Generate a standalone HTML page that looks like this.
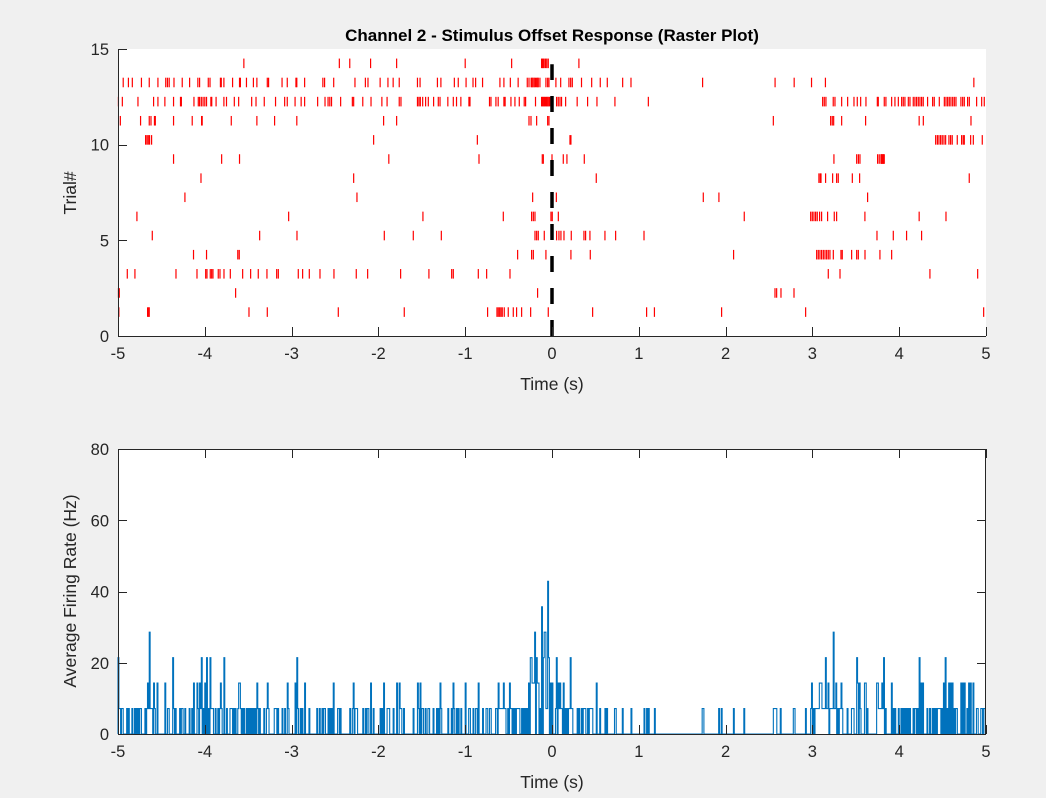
<!DOCTYPE html>
<html><head><meta charset="utf-8"><style>
html,body{margin:0;padding:0;background:#f0f0f0;}
svg{display:block;font-family:"Liberation Sans",Arial,sans-serif;}
</style></head><body>
<svg id="fig" width="1046" height="798">
<rect x="0" y="0" width="1046" height="798" fill="#f0f0f0"/>
<g id="topAxes"></g>
<g id="botAxes"></g>
</svg>
<script>
// Raster spike times (s) per trial
const trial1 = [-4.99,-4.659,-4.647,-4.64,-3.491,-3.28,-2.462,-1.702,-0.742,-0.634,-0.619,-0.603,-0.588,-0.573,-0.55,-0.504,-0.446,-0.408,-0.35,-0.246,-0.043,0.468,1.09,1.18,1.954,2.922,4.973];
const trial2 = [-4.997,-4.985,-3.645,-0.166,2.569,2.588,2.638,2.788];
const trial3 = [-4.893,-4.805,-4.332,-4.09,-3.99,-3.975,-3.937,-3.921,-3.906,-3.845,-3.825,-3.779,-3.706,-3.564,-3.472,-3.384,-3.284,-3.172,-3.153,-2.923,-2.873,-2.796,-2.673,-2.512,-2.255,-2.124,-1.744,-1.418,-1.156,-1.137,-0.849,-0.753,-0.484,3.183,3.318,4.354,4.904];
const trial4 = [-4.13,-3.98,-3.62,-3.603,-0.396,-0.235,-0.215,-0.07,0.218,0.441,2.092,3.049,3.068,3.087,3.106,3.126,3.145,3.164,3.183,3.202,3.241,3.329,3.344,3.452,3.51,3.529,3.606,3.778,3.913];
const trial5 = [-4.605,-3.368,-2.938,-1.932,-1.598,-1.275,-0.196,-0.177,-0.158,-0.089,0.053,0.08,0.103,0.138,0.222,0.368,0.387,0.437,0.61,0.733,1.06,3.744,3.932,4.085,4.258];
const trial6 = [-4.782,-3.034,-1.487,-0.561,-0.235,-0.215,-0.196,-0.012,0.003,0.073,2.215,2.98,2.999,3.018,3.037,3.056,3.083,3.106,3.175,3.252,3.279,3.605,4.23,4.539];
const trial7 = [-4.229,-2.247,-0.223,0.05,1.743,1.923,3.636];
const trial8 = [-4.044,-2.285,0.51,3.075,3.091,3.099,3.152,3.233,3.279,3.298,3.46,3.544,4.807];
const trial9 = [-4.36,-3.806,-3.6,-1.88,-0.841,-0.112,-0.1,0.0,0.13,0.172,0.372,3.248,3.51,3.53,3.548,3.751,3.77,3.79,3.795,3.8,3.809,3.815,3.82,3.828];
const trial10 = [-4.682,-4.666,-4.651,-4.636,-4.613,-2.055,-0.86,0.207,0.218,4.42,4.44,4.458,4.477,4.496,4.516,4.535,4.573,4.592,4.611,4.669,4.719,4.738,4.75,4.823,4.854,4.957];
const trial11 = [-4.973,-4.74,-4.64,-4.62,-4.58,-4.57,-4.36,-4.145,-4.037,-4.03,-3.695,-3.4,-3.196,-2.94,-1.94,-1.79,-0.265,-0.242,-0.177,-0.05,-0.035,2.55,3.21,3.229,3.245,3.337,3.613,4.23,4.278,4.827];
const trial12 = [-4.997,-4.95,-4.77,-4.59,-4.54,-4.46,-4.36,-4.28,-4.27,-4.125,-4.075,-4.06,-4.04,-4.02,-4.0,-3.98,-3.93,-3.92,-3.87,-3.78,-3.75,-3.66,-3.61,-3.46,-3.41,-3.315,-3.185,-3.08,-3.05,-2.96,-2.89,-2.85,-2.7,-2.615,-2.58,-2.56,-2.54,-2.435,-2.3,-2.285,-2.18,-2.085,-1.96,-1.9,-1.76,-1.74,
 -1.55,-1.533,-1.517,-1.49,-1.456,-1.425,-1.364,-1.31,-1.29,-1.2,-1.137,-1.1,-1.05,-0.957,-0.945,-0.72,-0.703,-0.646,-0.62,-0.554,-0.54,-0.473,-0.427,-0.377,-0.32,-0.304,-0.19,-0.12,-0.11,-0.1,-0.09,-0.081,-0.07,-0.062,-0.05,-0.043,-0.03,-0.015,0.053,0.072,0.092,0.11,0.157,0.29,0.41,0.518,0.725,1.11,
 3.118,3.137,3.156,3.24,3.26,3.337,3.406,3.479,3.517,3.556,3.617,3.748,3.759,3.828,3.847,3.913,3.951,3.99,4.028,4.047,4.066,4.105,4.124,4.162,4.181,4.2,4.22,4.239,4.258,4.277,4.327,4.385,4.404,4.462,4.52,4.539,4.558,4.577,4.596,4.616,4.635,4.654,4.711,4.731,4.75,4.788,4.808,4.892,4.95,4.98];
const trial13 = [-4.94,-4.88,-4.835,-4.73,-4.64,-4.54,-4.45,-4.43,-4.41,-4.355,-4.26,-4.175,-4.08,-4.06,-3.96,-3.94,-3.82,-3.81,-3.78,-3.68,-3.6,-3.59,-3.52,-3.44,-3.4,-3.28,-3.265,-3.11,-3.05,-2.95,-2.94,-2.85,-2.64,-2.62,-2.515,-2.27,-2.15,-2.12,-1.98,-1.89,-1.83,-1.76,
 -1.55,-1.52,-1.32,-1.28,-1.125,-1.08,-0.99,-0.91,-0.88,-0.8,-0.6,-0.554,-0.48,-0.39,-0.285,-0.265,-0.24,-0.23,-0.227,-0.21,-0.204,-0.19,-0.177,-0.165,-0.158,-0.139,-0.07,-0.05,-0.035,0.045,0.1,0.195,0.215,0.234,0.34,0.457,0.556,0.637,0.814,0.91,1.735,2.57,2.79,2.99,3.15,4.86];
const trial14 = [-3.55,-2.45,-2.33,-2.09,-1.79,-1.0,-0.465,-0.12,-0.11,-0.1,-0.09,-0.074,-0.06,-0.043,0.31];
const trials = [trial1,trial2,trial3,trial4,trial5,trial6,trial7,trial8,trial9,trial10,trial11,trial12,trial13,trial14];
const xTicks = [-5,-4,-3,-2,-1,0,1,2,3,4,5];
const yTicksTop = [0,5,10,15];
const yTicksBot = [0,20,40,60,80];
const binWidth = 0.01;

const NS='http://www.w3.org/2000/svg';
function mk(parent,tag,attrs,text){const e=document.createElementNS(NS,tag);for(const k in attrs)e.setAttribute(k,attrs[k]);if(text!==undefined)e.textContent=text;parent.appendChild(e);return e;}
const L=118,R=986;
const xs=t=>L+(t+5)/10*(R-L);
const T0=49,T1=336; const yTop=v=>T1-(v/15)*(T1-T0);
const B0=449,B1=734; const yBot=v=>B1-(v/80)*(B1-B0);

function axes(g,y0,y1,yfun,yt,box,prefix){
 const ax=mk(g,'g',{stroke:'#262626','stroke-width':1,fill:'none'});
 
 
 mk(ax,'line',{x1:L,x2:R,y1:y1+0.5,y2:y1+0.5});
 mk(ax,'line',{x1:L+0.5,x2:L+0.5,y1:y0,y2:y1});
 if(box){mk(ax,'line',{x1:L,x2:R,y1:y0+0.5,y2:y0+0.5});mk(ax,'line',{x1:R-0.5,x2:R-0.5,y1:y0,y2:y1});}
 xTicks.forEach(t=>{const x=Math.round(xs(t))+0.5;mk(ax,'line',{x1:x,x2:x,y1:y1,y2:y1-9});if(box)mk(ax,'line',{x1:x,x2:x,y1:y0,y2:y0+9});
  const tx=mk(g,'text',{x:xs(t),y:y1+23,'text-anchor':'middle','font-size':16.5,fill:'#262626'},String(t));
  
  });
 yt.forEach(v=>{const y=Math.round(yfun(v))+0.5;mk(ax,'line',{x1:L,x2:L+9,y1:y,y2:y});if(box)mk(ax,'line',{x1:R,x2:R-9,y1:y,y2:y});
  const tx=mk(g,'text',{x:L-9,y:yfun(v)+6,'text-anchor':'end','font-size':16.5,fill:'#262626'},String(v));
  
  });
}

// ---- top raster
const topG=document.getElementById('topAxes');
let r=mk(topG,'rect',{x:L,y:T0,width:R-L,height:T1-T0,fill:'#fff'});


const sp=mk(topG,'g',{stroke:'#ff0000','stroke-width':1.2});


trials.forEach((arr,i)=>{const tr=i+1;arr.forEach(t=>{
 const x=xs(Math.max(-4.995,Math.min(4.995,t)));
 const l=mk(sp,'line',{x1:x,x2:x,y1:yTop(tr),y2:yTop(tr+0.5)});
 
 
});});
const dl=mk(topG,'line',{x1:xs(0),x2:xs(0),y1:yTop(0),y2:yTop(14.2),stroke:'#000','stroke-width':3.5,'stroke-dasharray':'16 16'});


axes(topG,T0,T1,yTop,yTicksTop,false,'raster');
let t1=mk(topG,'text',{x:552,y:41,'text-anchor':'middle','font-size':17,'font-weight':'bold',fill:'#000'},'Channel 2 - Stimulus Offset Response (Raster Plot)');


let xl=mk(topG,'text',{x:552,y:390,'text-anchor':'middle','font-size':17.5,fill:'#262626'},'Time (s)');


let yl=mk(topG,'text',{x:0,y:0,'text-anchor':'middle','font-size':17.5,fill:'#262626',transform:'translate(76,193) rotate(-90)'},'Trial#');



// ---- bottom firing rate
const botG=document.getElementById('botAxes');
r=mk(botG,'rect',{x:L,y:B0,width:R-L,height:B1-B0,fill:'#fff'});


const nb=Math.round(10/binWidth);
const counts=new Array(nb).fill(0);
trials.forEach(arr=>arr.forEach(t=>{let b=Math.floor((t+5)/binWidth);if(b<0)b=0;if(b>=nb)b=nb-1;counts[b]++;}));
let d='M'+xs(-5)+','+yBot(0);
for(let b=0;b<nb;b++){const v=counts[b]/(trials.length*binWidth);const xa=xs(-5+b*binWidth),xb=xs(-5+(b+1)*binWidth);
 d+=' L'+xa.toFixed(2)+','+yBot(v).toFixed(2)+' L'+xb.toFixed(2)+','+yBot(v).toFixed(2);}
d+=' L'+xs(5)+','+yBot(0);
const pth=mk(botG,'path',{d:d,fill:'none',stroke:'#0072BD','stroke-width':1.1});


axes(botG,B0,B1,yBot,yTicksBot,true,'rate');
xl=mk(botG,'text',{x:552,y:788,'text-anchor':'middle','font-size':17.5,fill:'#262626'},'Time (s)');


yl=mk(botG,'text',{x:0,y:0,'text-anchor':'middle','font-size':17.5,fill:'#262626',transform:'translate(76,591) rotate(-90)'},'Average Firing Rate (Hz)');


</script>
</body></html>
